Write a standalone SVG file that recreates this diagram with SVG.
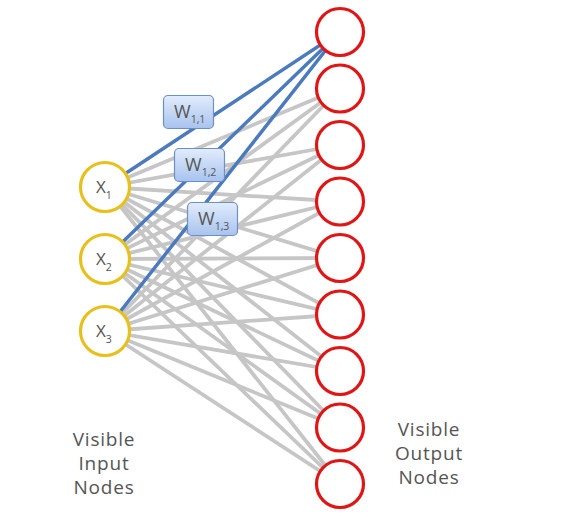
<svg xmlns="http://www.w3.org/2000/svg" width="582" height="519" viewBox="0 0 582 519">
<defs>
<linearGradient id="wg" x1="0" y1="0" x2="0" y2="1">
<stop offset="0" stop-color="#e2ecfc"/>
<stop offset="1" stop-color="#a8c3ee"/>
</linearGradient>
<style>
.g{stroke:#c6c6c6;stroke-width:3.8;stroke-linecap:round}
.b{stroke:#4b7bbd;stroke-width:3.5;stroke-linecap:round}
.in{fill:#fff;stroke:#e6c11e;stroke-width:3.2}
.out{fill:#fff;stroke:#e01515;stroke-width:3.2}
.w{fill:url(#wg);stroke:#6d8fc8;stroke-width:1.2}
.t{font-family:"Open Sans","Liberation Sans",sans-serif;fill:#555;}
.lab{font-size:19px;text-anchor:middle;letter-spacing:0.8px}
.wt{font-size:18px}
.xt{font-size:17px}
.sub{font-size:10.5px}
</style>
</defs>
<rect width="582" height="519" fill="#fff"/>
<g id="connectors">
<line class="g" x1="105" y1="187" x2="340" y2="88.5"/>
<line class="g" x1="105" y1="187" x2="340" y2="145"/>
<line class="g" x1="105" y1="187" x2="340" y2="201.5"/>
<line class="g" x1="105" y1="187" x2="340" y2="258"/>
<line class="g" x1="105" y1="187" x2="340" y2="314.5"/>
<line class="g" x1="105" y1="187" x2="340" y2="371"/>
<line class="g" x1="105" y1="187" x2="340" y2="427.5"/>
<line class="g" x1="105" y1="187" x2="340" y2="484"/>
<line class="g" x1="105" y1="259" x2="340" y2="88.5"/>
<line class="g" x1="105" y1="259" x2="340" y2="145"/>
<line class="g" x1="105" y1="259" x2="340" y2="201.5"/>
<line class="g" x1="105" y1="259" x2="340" y2="258"/>
<line class="g" x1="105" y1="259" x2="340" y2="314.5"/>
<line class="g" x1="105" y1="259" x2="340" y2="371"/>
<line class="g" x1="105" y1="259" x2="340" y2="427.5"/>
<line class="g" x1="105" y1="259" x2="340" y2="484"/>
<line class="g" x1="105" y1="331" x2="340" y2="88.5"/>
<line class="g" x1="105" y1="331" x2="340" y2="145"/>
<line class="g" x1="105" y1="331" x2="340" y2="201.5"/>
<line class="g" x1="105" y1="331" x2="340" y2="258"/>
<line class="g" x1="105" y1="331" x2="340" y2="314.5"/>
<line class="g" x1="105" y1="331" x2="340" y2="371"/>
<line class="g" x1="105" y1="331" x2="340" y2="427.5"/>
<line class="g" x1="105" y1="331" x2="340" y2="484"/>
<line class="b" x1="105" y1="187" x2="340" y2="32"/>
<line class="b" x1="105" y1="259" x2="340" y2="32"/>
<line class="b" x1="105" y1="331" x2="340" y2="32"/>
</g>
<g id="w11"><rect class="w" x="163.5" y="95.5" width="50" height="33" rx="4.5"/><text class="t wt" x="174" y="118">W<tspan class="sub" dy="5">1,1</tspan></text></g>
<g id="w12"><rect class="w" x="174.5" y="148.5" width="50" height="33" rx="4.5"/><text class="t wt" x="185" y="171">W<tspan class="sub" dy="5">1,2</tspan></text></g>
<g id="w13"><rect class="w" x="187.5" y="202.5" width="50" height="33" rx="4.5"/><text class="t wt" x="198" y="225">W<tspan class="sub" dy="5">1,3</tspan></text></g>
<g id="x1"><circle class="in" cx="105" cy="187" r="24.5"/><text class="t xt" x="96" y="193">X<tspan class="sub" dy="6">1</tspan></text></g>
<g id="x2"><circle class="in" cx="105" cy="259" r="24.5"/><text class="t xt" x="96" y="265">X<tspan class="sub" dy="6">2</tspan></text></g>
<g id="x3"><circle class="in" cx="105" cy="331" r="24.5"/><text class="t xt" x="96" y="337">X<tspan class="sub" dy="6">3</tspan></text></g>
<g id="o1"><circle class="out" cx="340" cy="32" r="23.5"/></g>
<g id="o2"><circle class="out" cx="340" cy="88.5" r="23.5"/></g>
<g id="o3"><circle class="out" cx="340" cy="145" r="23.5"/></g>
<g id="o4"><circle class="out" cx="340" cy="201.5" r="23.5"/></g>
<g id="o5"><circle class="out" cx="340" cy="258" r="23.5"/></g>
<g id="o6"><circle class="out" cx="340" cy="314.5" r="23.5"/></g>
<g id="o7"><circle class="out" cx="340" cy="371" r="23.5"/></g>
<g id="o8"><circle class="out" cx="340" cy="427.5" r="23.5"/></g>
<g id="o9"><circle class="out" cx="340" cy="484" r="23.5"/></g>
<g id="input-label"><text class="t lab" x="104" y="446">Visible</text><text class="t lab" x="104" y="470">Input</text><text class="t lab" x="104" y="494">Nodes</text></g>
<g id="output-label"><text class="t lab" x="429" y="436">Visible</text><text class="t lab" x="429" y="460">Output</text><text class="t lab" x="429" y="484">Nodes</text></g>
</svg>
